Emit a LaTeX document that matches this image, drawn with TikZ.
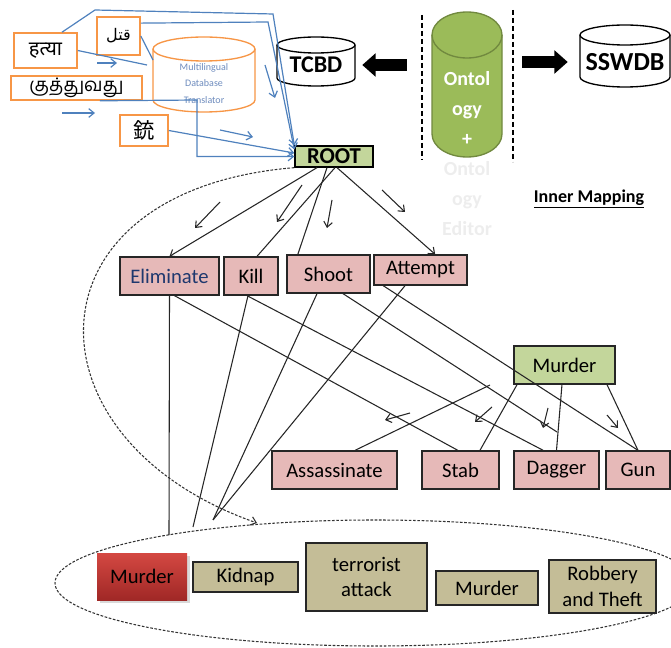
\documentclass[tikz,border=0pt]{standalone}
\usepackage{fontspec}
\setmainfont{Carlito}
\newfontfamily\devafont[Script=Devanagari]{Noto Sans}
\newfontfamily\tamilfont[Script=Tamil]{Hind Madurai}
\newfontfamily\arabicfont[Script=Arabic]{DejaVu Sans}
\newfontfamily\cjkfont{Noto Sans CJK JP}
\TeXXeTstate=1
\usetikzlibrary{arrows.meta,shadows}

\definecolor{orng}{RGB}{247,150,70}
\definecolor{bluln}{RGB}{79,129,189}
\definecolor{pnk}{RGB}{230,185,184}
\definecolor{lgrn}{RGB}{195,214,155}
\definecolor{ogrn}{RGB}{155,187,89}
\definecolor{ogrndk}{RGB}{113,137,63}
\definecolor{tanfill}{RGB}{196,189,151}
\definecolor{redtop}{RGB}{212,72,66}
\definecolor{redbot}{RGB}{160,40,38}
\definecolor{navy}{RGB}{31,56,110}
\definecolor{mdtxt}{RGB}{110,140,190}

% drum: [style]{centre x}{top y}{bottom y}{x radius}{y radius}
\newcommand{\dbdrum}[6][]{%
  \draw[#1] ({#2-#5},{#3+#6}) -- ({#2-#5},{#4-#6})
    arc[start angle=180,end angle=0,x radius=#5,y radius=#6]
    -- ({#2+#5},{#3+#6})
    arc[start angle=0,end angle=-180,x radius=#5,y radius=#6] -- cycle;
  \draw[#1,fill=none] ({#2-#5},{#3+#6})
    arc[start angle=180,end angle=0,x radius=#5,y radius=#6];
}

\begin{document}
\begin{tikzpicture}[x=0.75pt,y=0.75pt,yscale=-1,xscale=1,
  arr/.style={-{Straight Barb[length=4pt,width=6.5pt]}},
  langbox/.style={draw=orng,line width=1.2pt,inner sep=0pt},
  termbox/.style={draw=black!85,line width=1pt,fill=pnk,inner sep=0pt,font=\fontsize{15.5}{18}\selectfont},
  crimebox/.style={draw=black!85,line width=1pt,fill=tanfill,inner sep=0pt,align=center,font=\fontsize{15.5}{19}\selectfont},
  drumtext/.style={inner sep=0pt,font=\bfseries\fontsize{18}{20}\selectfont},
  blueln/.style={draw=bluln,line width=0.9pt},
  tree/.style={draw=black!85,line width=0.8pt},
  dashln/.style={draw=black!80,line width=0.8pt,dash pattern=on 2pt off 1.2pt},
  fence/.style={draw=black,line width=2.2pt,dash pattern=on 4pt off 2pt},
  bigarrow/.style={draw=black,line width=9pt,-{Triangle[length=10pt,width=17pt]}}]
\useasboundingbox (0,0) rectangle (671,648);

% databases
\dbdrum[draw=orng,line width=1pt,fill=white]{204}{37}{112}{51}{12}
\dbdrum[draw=black,line width=1pt,fill=white]{316}{37}{86}{39}{8}
\dbdrum[draw=ogrndk,line width=1pt,fill=ogrn]{467}{12}{157}{35}{23}
\dbdrum[draw=black,line width=1pt,fill=white]{625}{25}{87}{45}{10}

\node[font=\fontsize{7.5}{12.4}\selectfont,text=mdtxt,align=center] (mdt) at (204,83.5) {Multilingual\\Database\\Translator};
\node[drumtext,minimum width=58.5pt] (tcbd) at (316,65) {TCBD};
\node[drumtext,minimum width=70.5pt,font=\bfseries\fontsize{19.5}{20}\selectfont] (sswdb) at (625,62) {SSWDB};
\node[inner sep=0pt,minimum width=52.5pt,align=center,text=white,font=\bfseries\fontsize{15}{22.5}\selectfont] (onto) at (467,154)
  {Ontol\\ogy\\+\\{\color{black!7}Ontol}\\{\color{black!7}ogy}\\{\color{black!7}Editor}};

\draw[fence] (422,15) -- (422,160);
\draw[fence] (513,10) -- (513,162);
\draw[bigarrow,shorten <=18.75pt,shorten >=5.25pt] (onto.west |- tcbd.east) -- (tcbd.east);
\draw[bigarrow,shorten <=15pt,shorten >=7.5pt] (onto.east |- sswdb.west) -- (sswdb.west);

\node[font=\bfseries\fontsize{13.5}{16}\selectfont] (inmap) at (589,199) {\underline{Inner Mapping}};

% words in other languages
\node[langbox,minimum width=47.25pt,minimum height=26.25pt,font=\devafont\fontsize{15}{18}\selectfont] (hatya) at (45.5,50.5) {हत्या};
\node[langbox,minimum width=32.25pt,minimum height=28.5pt,font=\arabicfont\fontsize{12}{14}\selectfont] (qatl) at (118.5,36) {\beginR قتل\endR};
\node[langbox,minimum width=98.25pt,minimum height=18pt,font=\tamilfont\fontsize{14}{16}\selectfont] (kuttu) at (76.5,88) {குத்துவது};
\node[langbox,minimum width=36pt,minimum height=23.25pt,font=\cjkfont\fontsize{16}{18}\selectfont] (ju) at (144,130.5) {銃};

\node[draw=black,line width=1pt,fill=lgrn,minimum width=58.5pt,minimum height=15.75pt,inner sep=0pt,font=\bfseries\fontsize{17}{17}\selectfont] (root) at (334,156.5) {ROOT};

\coordinate (ha) at (147,65);
\coordinate (qa) at (153,60);
\draw[blueln,arr] ([xshift=12.4pt]hatya.north) -- (95,10) -- (273,14) -- (root.north west);
\draw[blueln,arr] (qatl.30) -- (268,22) -- (root.170);
\draw[blueln] (hatya.east) -- (ha);
\draw[blueln] (qatl.east) -- (qa);
\draw[blueln,arr] ([xshift=17.6pt]kuttu.south) -- (197,100) -- (197,156.5) -- (root.west);
\draw[blueln,arr] (ju.east) -- (root.175);
\foreach \xa/\ya/\xb/\yb in {97/63/117/63, 62/113/95/113, 220/130/253/137, 265/65/275/98}
  \draw[blueln,arr] (\xa,\ya) -- (\xb,\yb);

% terms
\node[termbox,text=navy,minimum width=74.25pt,minimum height=28.5pt] (elim) at (169.5,276) {Eliminate};
\node[termbox,minimum width=40.5pt,minimum height=28.5pt] (kill) at (251,276) {Kill};
\node[termbox,minimum width=62.25pt,minimum height=28.5pt] (shoot) at (328.5,274) {Shoot};
\node[termbox,minimum width=69.75pt,minimum height=22.5pt] (att) at (420.5,270) {Attempt};
\node[termbox,fill=lgrn,minimum width=75.75pt,minimum height=28.5pt] (murder) at (564.5,365) {Murder};
\node[termbox,minimum width=93.75pt,minimum height=28.5pt] (assas) at (334.5,470) {Assassinate};
\node[termbox,minimum width=57.75pt,minimum height=28.5pt] (stab) at (460.5,470) {Stab};
\node[termbox,minimum width=63.75pt,minimum height=28.5pt] (dagger) at (556.5,470) {Dagger};
\node[termbox,minimum width=48pt,minimum height=28.5pt] (gun) at (638,470) {Gun};

% crime group
\draw[dashln] (375,583) ellipse [x radius=320,y radius=63];
\node[top color=redtop,bottom color=redbot,drop shadow={opacity=0.3},inner sep=0pt,minimum width=67.5pt,minimum height=35.25pt,font=\fontsize{15.5}{18}\selectfont] (mred) at (142,576.5) {Murder};
\node[crimebox,minimum width=78.75pt,minimum height=22.5pt] (kidnap) at (245.5,577) {Kidnap};
\node[crimebox,minimum width=90.75pt,minimum height=51pt] (terror) at (366.5,577) {terrorist\\attack};
\node[crimebox,minimum width=76.5pt,minimum height=25.5pt] (mtan) at (487,588) {Murder};
\node[crimebox,minimum width=80.25pt,minimum height=39.75pt] (rob) at (602.5,586.5) {Robbery\\and Theft};

\coordinate (e1) at (169,535);
\coordinate (e2) at (193,527);
\coordinate (e3) at (213,520);
\coordinate (e4) at (257,523);
\coordinate (dg) at (557,432);
\coordinate (as) at (490,385);

\draw[dashln,arr] (root.south west) .. controls (20,190) and (20,440) .. (e4);

\draw[tree,arr] ([xshift=-12.75pt]root.south) -- (elim.north);
\draw[tree] ([xshift=0.75pt]root.south) -- ([xshift=4.5pt]kill.north);
\draw[tree] ([xshift=-5.25pt]root.south) -- ([xshift=-23pt]shoot.north);
\draw[tree,arr] ([xshift=2.25pt]root.south) -- ([xshift=11pt]att.north);

\draw[tree] (elim.south) -- (e1);
\draw[tree] ([xshift=3.75pt]elim.south) -- ([xshift=-2pt]stab.north);
\draw[tree] ([xshift=-2.25pt]kill.south) -- (e2);
\draw[tree] ([xshift=-3pt]kill.south) -- ([xshift=-10pt]dagger.north);
\draw[tree] ([xshift=-8.6pt]shoot.south) -- (e3);
\draw[tree] ([xshift=10.9pt]shoot.south) -- (dg);
\draw[tree] ([xshift=-11.6pt]att.south) -- (e3);
\draw[tree] ([xshift=-28pt]att.south) -- (gun.north);
\draw[tree] ([xshift=31.9pt]murder.south) -- (gun.north);
\draw[tree] ([xshift=-1.9pt]murder.south) -- (dagger.north);
\draw[tree] ([xshift=-35.6pt]murder.south) -- ([xshift=14.6pt]stab.north);
\draw[tree] (as) -- ([xshift=15.4pt]assas.north);

\foreach \xa/\ya/\xb/\yb in {220/202/195/228, 302/185/277/222, 332/200/327/228, 382/190/405/212,
    410/413/385/420, 492/407/475/422, 548/408/543/428, 607/415/618/428}
  \draw[tree,arr] (\xa,\ya) -- (\xb,\yb);
\end{tikzpicture}
\end{document}
